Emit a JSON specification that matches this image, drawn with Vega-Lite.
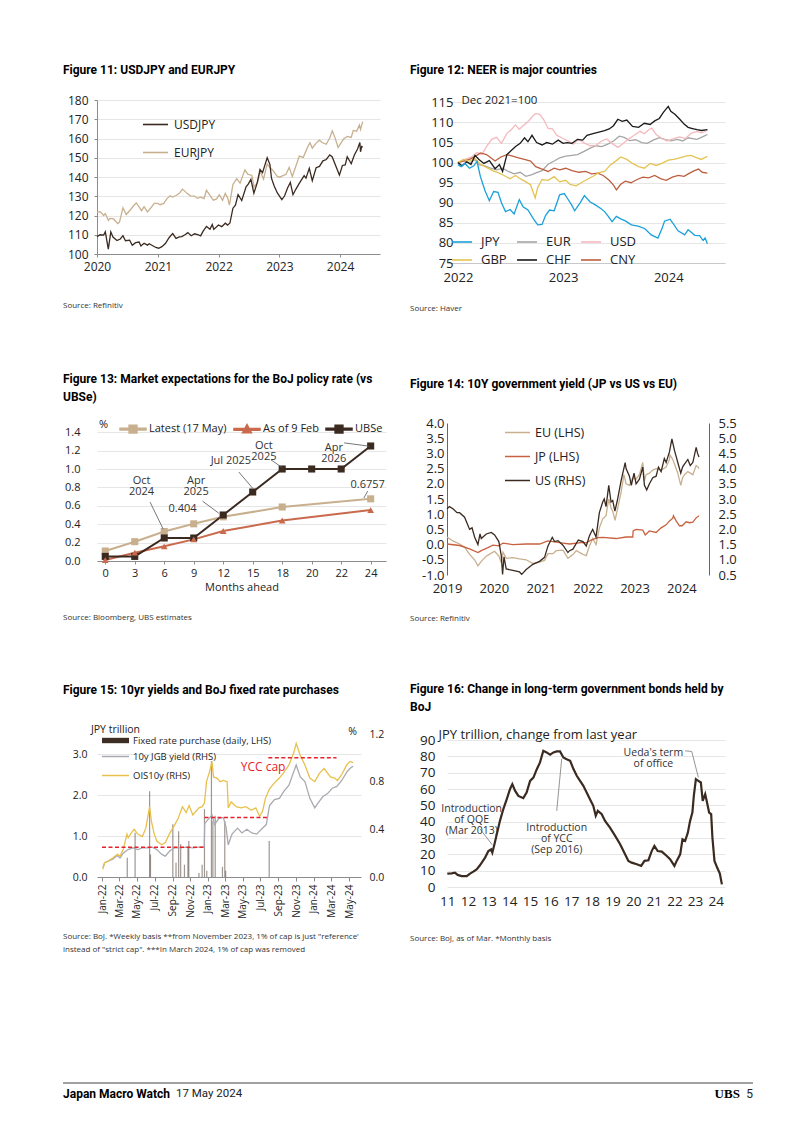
{
"$schema": "https://vega.github.io/schema/vega-lite/v6.json",
"background": "white",
"padding": {"left": 62, "top": 64, "right": 0, "bottom": 10},
"config": {
  "font": "Open Sans",
  "view": {"stroke": null},
  "axis": {"labelFont": "Open Sans", "titleFont": "Open Sans", "labelColor": "#222", "titleColor": "#222", "titleFontWeight": "normal", "domainColor": "#8c8c8c", "tickColor": "#8c8c8c", "gridColor": "#e6e6e6", "labelFontSize": 12, "labelOverlap": false, "labelFlush": false},
  "legend": {"labelFont": "Open Sans", "labelColor": "#222", "titleFont": "Open Sans", "titleFontWeight": "normal", "titleColor": "#222"},
  "title": {"font": "Roboto", "color": "#000"}
},
"spacing": 128,
"vconcat": [
{
"columns": 2,
"align": "each",
"spacing": {"row": 60, "column": 24},
"resolve": {"scale": {"color": "independent", "fill": "independent", "stroke": "independent", "shape": "independent"}, "legend": {"color": "independent", "fill": "independent", "stroke": "independent", "shape": "independent"}},
"concat": [
{
  "title": {"text": "Figure 11: USDJPY and EURJPY", "anchor": "start", "frame": "group", "dx": -34, "offset": 17, "fontSize": 12, "fontWeight": "bold"},
  "vconcat": [{
    "width": 283, "height": 154,
    "title": {"text": "Source: Refinitiv", "orient": "bottom", "anchor": "start", "frame": "group", "dx": -34, "offset": 30, "fontSize": 8, "fontWeight": "normal", "font": "Open Sans", "color": "#333"},
    "encoding": {
      "x": {"field": "d", "type": "temporal", "scale": {"type": "utc", "domain": [{"year": 2020, "month": 1, "date": 1, "utc": true}, {"year": 2024, "month": 8, "date": 28, "utc": true}]}, "axis": {"title": null, "format": "%Y", "tickCount": {"interval": "year", "step": 1}, "grid": false, "tickSize": 3, "labelPadding": 4, "labelFontSize": 12}},
      "y": {"field": "v", "type": "quantitative", "scale": {"domain": [100, 180], "nice": false, "zero": false}, "axis": {"title": null, "values": [100,110,120,130,140,150,160,170,180], "tickSize": 3, "labelPadding": 6, "labelFontSize": 12, "grid": true}}
    },
    "layer": [
      {"data": {"values": [
        {"d":"2020-01-01","v":121.8},{"d":"2020-01-20","v":122.0},{"d":"2020-02-10","v":120.0},{"d":"2020-02-20","v":121.0},{"d":"2020-03-09","v":117.5},{"d":"2020-03-20","v":118.5},{"d":"2020-04-10","v":118.2},{"d":"2020-05-05","v":115.8},{"d":"2020-05-15","v":116.5},{"d":"2020-06-05","v":124.0},{"d":"2020-06-25","v":120.5},{"d":"2020-07-20","v":123.0},{"d":"2020-08-10","v":125.3},{"d":"2020-08-25","v":126.5},{"d":"2020-09-10","v":124.5},{"d":"2020-09-25","v":122.5},{"d":"2020-10-10","v":124.6},{"d":"2020-10-30","v":121.9},{"d":"2020-11-20","v":124.0},{"d":"2020-12-10","v":126.3},{"d":"2020-12-30","v":126.3},{"d":"2021-01-15","v":125.6},{"d":"2021-02-05","v":126.3},{"d":"2021-02-25","v":128.8},{"d":"2021-03-15","v":130.2},{"d":"2021-03-31","v":129.6},{"d":"2021-04-20","v":130.4},{"d":"2021-05-10","v":131.5},{"d":"2021-05-28","v":133.7},{"d":"2021-06-10","v":132.8},{"d":"2021-06-25","v":131.5},{"d":"2021-07-15","v":130.2},{"d":"2021-08-10","v":130.1},{"d":"2021-08-25","v":128.9},{"d":"2021-09-15","v":129.5},{"d":"2021-10-05","v":128.8},{"d":"2021-10-20","v":133.1},{"d":"2021-11-10","v":130.5},{"d":"2021-11-30","v":128.0},{"d":"2021-12-20","v":128.6},{"d":"2022-01-05","v":130.8},{"d":"2022-01-25","v":127.9},{"d":"2022-02-10","v":131.5},{"d":"2022-02-25","v":129.0},{"d":"2022-03-07","v":125.4},{"d":"2022-03-28","v":136.1},{"d":"2022-04-20","v":139.2},{"d":"2022-05-10","v":136.8},{"d":"2022-06-08","v":143.7},{"d":"2022-06-25","v":141.5},{"d":"2022-07-20","v":140.8},{"d":"2022-08-02","v":134.8},{"d":"2022-08-25","v":137.5},{"d":"2022-09-07","v":143.1},{"d":"2022-09-28","v":138.9},{"d":"2022-10-20","v":146.8},{"d":"2022-11-05","v":145.0},{"d":"2022-11-20","v":143.8},{"d":"2022-12-20","v":140.3},{"d":"2023-01-03","v":139.9},{"d":"2023-01-20","v":140.6},{"d":"2023-02-10","v":141.4},{"d":"2023-03-01","v":145.0},{"d":"2023-03-20","v":140.3},{"d":"2023-04-10","v":145.6},{"d":"2023-05-01","v":150.9},{"d":"2023-05-25","v":150.2},{"d":"2023-06-20","v":155.6},{"d":"2023-07-04","v":157.8},{"d":"2023-07-18","v":155.0},{"d":"2023-08-10","v":157.6},{"d":"2023-08-30","v":159.1},{"d":"2023-09-15","v":157.9},{"d":"2023-10-10","v":157.0},{"d":"2023-11-01","v":160.5},{"d":"2023-11-15","v":164.0},{"d":"2023-12-01","v":160.6},{"d":"2023-12-20","v":155.3},{"d":"2024-01-05","v":157.5},{"d":"2024-01-25","v":160.0},{"d":"2024-02-15","v":161.1},{"d":"2024-03-08","v":160.6},{"d":"2024-03-20","v":164.2},{"d":"2024-04-10","v":163.8},{"d":"2024-04-26","v":167.0},{"d":"2024-05-03","v":164.7},{"d":"2024-05-16","v":168.8}
      ]},
      "mark": {"type": "line", "strokeWidth": 1.3},
      "encoding": {"color": {"datum": "EURJPY", "type": "nominal", "scale": {"domain": ["USDJPY", "EURJPY"], "range": ["#3b2a20", "#c8b08f"]}, "legend": {"orient": "none", "legendX": 45, "legendY": 11, "title": null, "symbolType": "stroke", "symbolSize": 625, "symbolStrokeWidth": 1.6, "labelFontSize": 12, "rowPadding": 8, "labelOffset": 5}}}},
      {"data": {"values": [
        {"d":"2020-01-01","v":109.0},{"d":"2020-01-20","v":110.0},{"d":"2020-02-10","v":109.8},{"d":"2020-02-20","v":111.5},{"d":"2020-03-09","v":102.5},{"d":"2020-03-24","v":111.5},{"d":"2020-04-06","v":108.8},{"d":"2020-04-30","v":107.0},{"d":"2020-05-20","v":107.8},{"d":"2020-06-05","v":109.5},{"d":"2020-06-20","v":106.9},{"d":"2020-07-15","v":107.2},{"d":"2020-07-31","v":104.5},{"d":"2020-08-20","v":105.9},{"d":"2020-09-10","v":106.2},{"d":"2020-09-21","v":104.2},{"d":"2020-10-10","v":105.6},{"d":"2020-10-30","v":104.6},{"d":"2020-11-10","v":105.3},{"d":"2020-12-01","v":104.3},{"d":"2020-12-20","v":103.4},{"d":"2021-01-06","v":103.0},{"d":"2021-01-25","v":103.8},{"d":"2021-02-15","v":105.4},{"d":"2021-03-10","v":108.6},{"d":"2021-03-31","v":110.6},{"d":"2021-04-20","v":108.1},{"d":"2021-05-10","v":108.9},{"d":"2021-05-25","v":109.0},{"d":"2021-06-15","v":110.1},{"d":"2021-06-30","v":111.1},{"d":"2021-07-20","v":109.5},{"d":"2021-08-10","v":110.5},{"d":"2021-08-31","v":110.0},{"d":"2021-09-15","v":109.4},{"d":"2021-09-30","v":111.9},{"d":"2021-10-20","v":114.3},{"d":"2021-11-10","v":112.9},{"d":"2021-11-24","v":115.3},{"d":"2021-12-03","v":112.8},{"d":"2021-12-31","v":115.1},{"d":"2022-01-20","v":114.2},{"d":"2022-02-10","v":116.0},{"d":"2022-02-24","v":115.0},{"d":"2022-03-10","v":116.1},{"d":"2022-03-28","v":123.8},{"d":"2022-04-12","v":125.4},{"d":"2022-04-28","v":130.8},{"d":"2022-05-20","v":127.8},{"d":"2022-06-15","v":134.9},{"d":"2022-06-28","v":136.3},{"d":"2022-07-14","v":138.8},{"d":"2022-08-01","v":131.6},{"d":"2022-08-20","v":136.7},{"d":"2022-09-07","v":143.9},{"d":"2022-09-22","v":142.3},{"d":"2022-10-20","v":150.0},{"d":"2022-11-05","v":146.6},{"d":"2022-11-15","v":139.3},{"d":"2022-12-01","v":135.3},{"d":"2022-12-20","v":131.7},{"d":"2023-01-16","v":128.2},{"d":"2023-02-01","v":130.1},{"d":"2023-02-20","v":134.4},{"d":"2023-03-08","v":137.2},{"d":"2023-03-24","v":130.8},{"d":"2023-04-10","v":133.6},{"d":"2023-04-28","v":136.3},{"d":"2023-05-30","v":140.7},{"d":"2023-06-10","v":139.4},{"d":"2023-06-30","v":144.5},{"d":"2023-07-18","v":138.1},{"d":"2023-08-10","v":144.8},{"d":"2023-08-30","v":145.5},{"d":"2023-09-20","v":148.4},{"d":"2023-10-10","v":149.1},{"d":"2023-10-31","v":151.5},{"d":"2023-11-15","v":150.4},{"d":"2023-12-01","v":146.9},{"d":"2023-12-28","v":141.0},{"d":"2024-01-15","v":146.0},{"d":"2024-02-01","v":146.3},{"d":"2024-02-13","v":150.5},{"d":"2024-03-08","v":146.9},{"d":"2024-03-27","v":151.4},{"d":"2024-04-15","v":154.5},{"d":"2024-04-29","v":157.9},{"d":"2024-05-03","v":153.1},{"d":"2024-05-10","v":155.8},{"d":"2024-05-16","v":155.5}
      ]},
      "mark": {"type": "line", "strokeWidth": 1.3},
      "encoding": {"color": {"datum": "USDJPY", "type": "nominal"}}}
    ]
  }]
},
{
  "title": {"text": "Figure 12: NEER is major countries", "anchor": "start", "frame": "group", "dx": -37, "offset": 17, "fontSize": 12, "fontWeight": "bold"},
  "vconcat": [{
    "width": 278, "height": 163,
    "title": {"text": "Source: Haver", "orient": "bottom", "anchor": "start", "frame": "group", "dx": -37, "offset": 21, "fontSize": 8, "fontWeight": "normal", "font": "Open Sans", "color": "#333"},
    "encoding": {
      "x": {"field": "d", "type": "temporal", "scale": {"type": "utc", "domain": [{"year": 2021, "month": 11, "date": 24, "utc": true}, {"year": 2024, "month": 7, "date": 16, "utc": true}]}, "axis": {"title": null, "format": "%Y", "tickCount": {"interval": "year", "step": 1}, "grid": false, "ticks": false, "labelPadding": 8, "labelFontSize": 13, "domainColor": "#c8c8c8"}},
      "y": {"field": "v", "type": "quantitative", "scale": {"domain": [75, 115.6], "nice": false, "zero": false}, "axis": {"title": "Dec 2021=100", "titleAngle": 0, "titleAlign": "left", "titleBaseline": "middle", "titleX": 4, "titleY": 0, "titleFontSize": 11.5, "values": [75,80,85,90,95,100,105,110,115], "domain": false, "ticks": false, "offset": -10, "labelPadding": 4, "labelFontSize": 13, "grid": true}}
    },
    "layer": [
      {"data": {"values": [
        {"d":"2022-01-01","v":100.0},{"d":"2022-01-20","v":100.6},{"d":"2022-02-10","v":99.8},{"d":"2022-03-01","v":100.8},{"d":"2022-03-15","v":99.5},{"d":"2022-04-05","v":99.2},{"d":"2022-04-25","v":98.6},{"d":"2022-05-15","v":98.2},{"d":"2022-06-05","v":98.6},{"d":"2022-06-25","v":97.8},{"d":"2022-07-15","v":97.2},{"d":"2022-08-05","v":97.6},{"d":"2022-08-25","v":96.6},{"d":"2022-09-15","v":97.0},{"d":"2022-10-01","v":97.5},{"d":"2022-10-20","v":98.0},{"d":"2022-11-10","v":99.6},{"d":"2022-12-01","v":100.4},{"d":"2022-12-20","v":101.2},{"d":"2023-01-10","v":101.6},{"d":"2023-02-01","v":101.8},{"d":"2023-02-20","v":102.0},{"d":"2023-03-15","v":102.8},{"d":"2023-04-05","v":103.6},{"d":"2023-04-25","v":104.2},{"d":"2023-05-15","v":104.0},{"d":"2023-06-05","v":104.6},{"d":"2023-06-25","v":105.4},{"d":"2023-07-15","v":106.6},{"d":"2023-08-01","v":106.3},{"d":"2023-08-20","v":105.5},{"d":"2023-09-10","v":105.7},{"d":"2023-10-01","v":105.0},{"d":"2023-10-20","v":104.8},{"d":"2023-11-10","v":105.6},{"d":"2023-12-01","v":106.2},{"d":"2023-12-20","v":105.8},{"d":"2024-01-10","v":105.4},{"d":"2024-02-01","v":105.8},{"d":"2024-02-20","v":105.4},{"d":"2024-03-10","v":106.2},{"d":"2024-03-25","v":106.0},{"d":"2024-04-10","v":105.8},{"d":"2024-04-25","v":106.3},{"d":"2024-05-16","v":107.0}
      ]}, "mark": {"type": "line", "strokeWidth": 1.3},
      "encoding": {"color": {"datum": "EUR", "type": "nominal", "scale": {"domain": ["JPY", "EUR", "USD", "GBP", "CHF", "CNY"], "range": ["#1aa0dc", "#a5a5a5", "#f5b9bd", "#e3c452", "#1a1a1a", "#bd5f3f"]}, "legend": {"orient": "none", "legendX": 4, "legendY": 131, "title": null, "direction": "horizontal", "columns": 3, "symbolType": "stroke", "symbolSize": 400, "symbolStrokeWidth": 1.6, "labelFontSize": 13, "rowPadding": -8, "columnPadding": 6, "labelOffset": 8}}}},
      {"data": {"values": [
        {"d":"2022-01-01","v":100.0},{"d":"2022-01-25","v":100.8},{"d":"2022-02-15","v":101.3},{"d":"2022-03-08","v":102.5},{"d":"2022-03-25","v":102.0},{"d":"2022-04-10","v":104.0},{"d":"2022-04-28","v":105.8},{"d":"2022-05-15","v":106.3},{"d":"2022-06-01","v":104.8},{"d":"2022-06-20","v":107.3},{"d":"2022-07-05","v":108.2},{"d":"2022-07-20","v":109.4},{"d":"2022-08-02","v":108.3},{"d":"2022-08-20","v":109.5},{"d":"2022-09-05","v":110.5},{"d":"2022-09-20","v":111.8},{"d":"2022-09-28","v":112.2},{"d":"2022-10-12","v":112.0},{"d":"2022-10-25","v":110.8},{"d":"2022-11-10","v":108.5},{"d":"2022-11-25","v":108.4},{"d":"2022-12-10","v":106.8},{"d":"2023-01-01","v":106.0},{"d":"2023-01-20","v":105.3},{"d":"2023-02-05","v":104.6},{"d":"2023-02-25","v":105.8},{"d":"2023-03-15","v":104.9},{"d":"2023-04-05","v":104.2},{"d":"2023-04-25","v":104.3},{"d":"2023-05-15","v":105.4},{"d":"2023-06-01","v":105.9},{"d":"2023-06-20","v":104.8},{"d":"2023-07-10","v":103.8},{"d":"2023-07-25","v":104.6},{"d":"2023-08-15","v":105.8},{"d":"2023-09-05","v":106.8},{"d":"2023-09-25","v":107.8},{"d":"2023-10-10","v":107.2},{"d":"2023-10-25","v":108.2},{"d":"2023-11-05","v":108.6},{"d":"2023-11-20","v":107.0},{"d":"2023-12-10","v":106.0},{"d":"2023-12-28","v":105.4},{"d":"2024-01-20","v":106.0},{"d":"2024-02-10","v":106.4},{"d":"2024-03-01","v":106.0},{"d":"2024-03-20","v":107.3},{"d":"2024-04-10","v":107.8},{"d":"2024-04-25","v":107.4},{"d":"2024-05-16","v":108.0}
      ]}, "mark": {"type": "line", "strokeWidth": 1.3}, "encoding": {"color": {"datum": "USD", "type": "nominal"}}},
      {"data": {"values": [
        {"d":"2022-01-01","v":100.0},{"d":"2022-01-20","v":100.4},{"d":"2022-02-10","v":100.8},{"d":"2022-03-01","v":101.5},{"d":"2022-03-20","v":102.4},{"d":"2022-04-10","v":102.0},{"d":"2022-04-25","v":101.2},{"d":"2022-05-10","v":100.4},{"d":"2022-05-30","v":101.4},{"d":"2022-06-20","v":102.0},{"d":"2022-07-10","v":101.6},{"d":"2022-07-30","v":101.2},{"d":"2022-08-20","v":100.8},{"d":"2022-09-10","v":100.4},{"d":"2022-09-28","v":99.0},{"d":"2022-10-20","v":98.4},{"d":"2022-11-10","v":97.8},{"d":"2022-12-01","v":98.6},{"d":"2022-12-20","v":98.2},{"d":"2023-01-10","v":98.6},{"d":"2023-02-01","v":98.0},{"d":"2023-02-25","v":97.6},{"d":"2023-03-20","v":97.8},{"d":"2023-04-10","v":97.2},{"d":"2023-05-01","v":97.4},{"d":"2023-05-20","v":96.8},{"d":"2023-06-10","v":95.6},{"d":"2023-06-25","v":94.4},{"d":"2023-07-05","v":93.2},{"d":"2023-07-20","v":94.6},{"d":"2023-08-05","v":95.4},{"d":"2023-08-25","v":95.0},{"d":"2023-09-15","v":95.8},{"d":"2023-10-05","v":96.4},{"d":"2023-10-25","v":96.2},{"d":"2023-11-15","v":96.8},{"d":"2023-12-05","v":96.0},{"d":"2023-12-25","v":95.6},{"d":"2024-01-15","v":96.4},{"d":"2024-02-05","v":96.8},{"d":"2024-02-25","v":96.6},{"d":"2024-03-15","v":97.4},{"d":"2024-04-01","v":98.0},{"d":"2024-04-15","v":98.4},{"d":"2024-04-28","v":97.6},{"d":"2024-05-16","v":97.4}
      ]}, "mark": {"type": "line", "strokeWidth": 1.3}, "encoding": {"color": {"datum": "CNY", "type": "nominal"}}},
      {"data": {"values": [
        {"d":"2022-01-01","v":100.0},{"d":"2022-01-20","v":100.8},{"d":"2022-02-10","v":100.4},{"d":"2022-03-01","v":101.0},{"d":"2022-03-20","v":99.6},{"d":"2022-04-10","v":98.8},{"d":"2022-05-01","v":98.0},{"d":"2022-05-20","v":97.5},{"d":"2022-06-10","v":96.8},{"d":"2022-07-01","v":96.0},{"d":"2022-07-20","v":96.8},{"d":"2022-08-05","v":96.0},{"d":"2022-08-25","v":95.2},{"d":"2022-09-10","v":94.5},{"d":"2022-09-26","v":91.2},{"d":"2022-10-05","v":93.8},{"d":"2022-10-20","v":95.8},{"d":"2022-11-10","v":95.6},{"d":"2022-12-01","v":96.5},{"d":"2022-12-20","v":95.2},{"d":"2023-01-10","v":95.6},{"d":"2023-01-25","v":94.6},{"d":"2023-02-15","v":94.2},{"d":"2023-03-05","v":95.0},{"d":"2023-03-25","v":95.8},{"d":"2023-04-15","v":96.6},{"d":"2023-05-05","v":97.5},{"d":"2023-05-25","v":97.8},{"d":"2023-06-15","v":99.5},{"d":"2023-07-05","v":100.5},{"d":"2023-07-20","v":101.4},{"d":"2023-08-10","v":100.8},{"d":"2023-08-30","v":99.8},{"d":"2023-09-20","v":99.0},{"d":"2023-10-10","v":98.6},{"d":"2023-10-30","v":99.8},{"d":"2023-11-20","v":99.3},{"d":"2023-12-10","v":99.8},{"d":"2024-01-01","v":100.6},{"d":"2024-01-20","v":100.8},{"d":"2024-02-10","v":101.2},{"d":"2024-03-01","v":101.6},{"d":"2024-03-20","v":101.8},{"d":"2024-04-10","v":101.2},{"d":"2024-04-25","v":100.8},{"d":"2024-05-16","v":101.6}
      ]}, "mark": {"type": "line", "strokeWidth": 1.3}, "encoding": {"color": {"datum": "GBP", "type": "nominal"}}},
      {"data": {"values": [
        {"d":"2022-01-01","v":100.0},{"d":"2022-01-15","v":99.2},{"d":"2022-02-01","v":100.2},{"d":"2022-02-15","v":99.5},{"d":"2022-03-01","v":101.8},{"d":"2022-03-15","v":100.8},{"d":"2022-04-01","v":99.8},{"d":"2022-04-20","v":100.5},{"d":"2022-05-10","v":98.5},{"d":"2022-05-25","v":99.5},{"d":"2022-06-05","v":97.8},{"d":"2022-06-20","v":102.0},{"d":"2022-07-05","v":103.0},{"d":"2022-07-20","v":104.0},{"d":"2022-08-05","v":104.8},{"d":"2022-08-20","v":106.2},{"d":"2022-09-01","v":105.2},{"d":"2022-09-15","v":106.8},{"d":"2022-10-01","v":105.0},{"d":"2022-10-20","v":104.4},{"d":"2022-11-05","v":105.0},{"d":"2022-11-25","v":104.6},{"d":"2022-12-15","v":105.6},{"d":"2023-01-01","v":104.8},{"d":"2023-01-15","v":105.0},{"d":"2023-02-01","v":104.8},{"d":"2023-02-20","v":105.8},{"d":"2023-03-10","v":105.6},{"d":"2023-03-25","v":106.8},{"d":"2023-04-15","v":107.2},{"d":"2023-05-05","v":107.6},{"d":"2023-05-25","v":108.0},{"d":"2023-06-10","v":108.4},{"d":"2023-06-25","v":109.2},{"d":"2023-07-10","v":110.8},{"d":"2023-07-25","v":110.3},{"d":"2023-08-10","v":110.6},{"d":"2023-08-30","v":109.0},{"d":"2023-09-20","v":108.8},{"d":"2023-10-10","v":109.8},{"d":"2023-10-30","v":109.5},{"d":"2023-11-15","v":110.4},{"d":"2023-12-01","v":111.0},{"d":"2023-12-15","v":112.5},{"d":"2024-01-01","v":114.0},{"d":"2024-01-10","v":112.8},{"d":"2024-01-25","v":112.0},{"d":"2024-02-10","v":110.8},{"d":"2024-02-25","v":109.6},{"d":"2024-03-10","v":108.8},{"d":"2024-03-25","v":108.5},{"d":"2024-04-10","v":108.2},{"d":"2024-04-25","v":108.0},{"d":"2024-05-16","v":108.2}
      ]}, "mark": {"type": "line", "strokeWidth": 1.3}, "encoding": {"color": {"datum": "CHF", "type": "nominal"}}},
      {"data": {"values": [
        {"d":"2022-01-01","v":99.5},{"d":"2022-01-12","v":99.0},{"d":"2022-01-25","v":99.8},{"d":"2022-02-10","v":98.6},{"d":"2022-02-25","v":99.2},{"d":"2022-03-08","v":100.3},{"d":"2022-03-20","v":96.5},{"d":"2022-04-05","v":93.0},{"d":"2022-04-20","v":90.5},{"d":"2022-05-05","v":92.8},{"d":"2022-05-20","v":92.6},{"d":"2022-06-01","v":90.0},{"d":"2022-06-15","v":87.8},{"d":"2022-07-01","v":88.3},{"d":"2022-07-15","v":87.2},{"d":"2022-08-02","v":90.8},{"d":"2022-08-15","v":89.0},{"d":"2022-09-01","v":88.2},{"d":"2022-09-20","v":86.0},{"d":"2022-10-05","v":84.5},{"d":"2022-10-20","v":84.6},{"d":"2022-11-01","v":86.8},{"d":"2022-11-15","v":88.2},{"d":"2022-12-01","v":88.0},{"d":"2022-12-20","v":92.0},{"d":"2023-01-05","v":92.3},{"d":"2023-01-17","v":91.0},{"d":"2023-02-01","v":89.3},{"d":"2023-02-10","v":88.0},{"d":"2023-03-01","v":90.0},{"d":"2023-03-16","v":91.8},{"d":"2023-04-05","v":90.2},{"d":"2023-04-20","v":89.6},{"d":"2023-05-13","v":88.5},{"d":"2023-05-25","v":87.8},{"d":"2023-06-05","v":86.8},{"d":"2023-06-20","v":85.3},{"d":"2023-07-05","v":86.6},{"d":"2023-07-20","v":86.0},{"d":"2023-08-05","v":85.5},{"d":"2023-08-26","v":84.5},{"d":"2023-09-18","v":84.2},{"d":"2023-10-11","v":83.6},{"d":"2023-11-03","v":82.0},{"d":"2023-11-26","v":81.2},{"d":"2023-12-10","v":83.5},{"d":"2023-12-19","v":85.4},{"d":"2024-01-07","v":85.9},{"d":"2024-01-20","v":84.6},{"d":"2024-02-04","v":83.0},{"d":"2024-02-27","v":82.0},{"d":"2024-03-10","v":83.3},{"d":"2024-03-22","v":82.6},{"d":"2024-04-02","v":81.9},{"d":"2024-04-19","v":81.8},{"d":"2024-05-01","v":80.6},{"d":"2024-05-08","v":81.2},{"d":"2024-05-16","v":79.8}
      ]}, "mark": {"type": "line", "strokeWidth": 1.3}, "encoding": {"color": {"datum": "JPY", "type": "nominal"}}}
    ]
  }]
},
{
  "title": {"text": ["Figure 13: Market expectations for the BoJ policy rate (vs", "UBSe)"], "lineHeight": 18, "anchor": "start", "frame": "group", "dx": -34, "offset": 11, "fontSize": 12, "fontWeight": "bold"},
  "vconcat": [{
    "width": 289, "height": 138,
    "title": {"text": "Source: Bloomberg, UBS estimates", "orient": "bottom", "anchor": "start", "frame": "group", "dx": -34, "offset": 22, "fontSize": 8, "fontWeight": "normal", "font": "Open Sans", "color": "#333"},
    "data": {"values": [
      {"s":"Latest (17 May)","pos":0,"v":0.109},{"s":"Latest (17 May)","pos":1,"v":0.21},{"s":"Latest (17 May)","pos":2,"v":0.32},{"s":"Latest (17 May)","pos":3,"v":0.404},{"s":"Latest (17 May)","pos":4,"v":0.48},{"s":"Latest (17 May)","pos":6,"v":0.587},{"s":"Latest (17 May)","pos":9,"v":0.6757},
      {"s":"As of 9 Feb","pos":0,"v":0.01},{"s":"As of 9 Feb","pos":1,"v":0.09},{"s":"As of 9 Feb","pos":2,"v":0.16},{"s":"As of 9 Feb","pos":3,"v":0.235},{"s":"As of 9 Feb","pos":4,"v":0.326},{"s":"As of 9 Feb","pos":6,"v":0.44},{"s":"As of 9 Feb","pos":9,"v":0.554},
      {"s":"UBSe","pos":0,"v":0.05},{"s":"UBSe","pos":1,"v":0.05},{"s":"UBSe","pos":2,"v":0.25},{"s":"UBSe","pos":3,"v":0.25},{"s":"UBSe","pos":4,"v":0.5},{"s":"UBSe","pos":5,"v":0.75},{"s":"UBSe","pos":6,"v":1.0},{"s":"UBSe","pos":7,"v":1.0},{"s":"UBSe","pos":8,"v":1.0},{"s":"UBSe","pos":9,"v":1.25}
    ]},
    "encoding": {
      "x": {"field": "pos", "type": "quantitative", "scale": {"domain": [-0.28, 9.52], "nice": false, "zero": false}, "axis": {"title": "Months ahead", "values": [0,1,2,3,4,5,6,7,8,9], "labelExpr": "['0','3','6','9','12','15','18','20','22','24'][datum.value]", "grid": false, "tickSize": 3, "labelPadding": 3, "labelFontSize": 11, "titleFontSize": 11, "titlePadding": 3}},
      "y": {"field": "v", "type": "quantitative", "scale": {"domain": [0, 1.5], "nice": false, "zero": false}, "axis": {"title": null, "values": [0,0.2,0.4,0.6,0.8,1.0,1.2,1.4], "format": ".1f", "domain": false, "ticks": false, "labelPadding": 17, "labelFontSize": 11, "grid": true}}
    },
    "layer": [
      {"mark": {"type": "line", "strokeWidth": 2},
       "encoding": {"color": {"field": "s", "type": "nominal", "scale": {"domain": ["Latest (17 May)", "As of 9 Feb", "UBSe"], "range": ["#c8b08f", "#c96a4d", "#3b2a20"]},
         "legend": {"orient": "none", "legendX": 2, "legendY": -8, "direction": "horizontal", "title": "%", "titleOrient": "left", "titlePadding": 10, "titleFontSize": 11, "labelFontSize": 11, "symbolSize": 676, "symbolType": "M-1,-0.07H1V0.07H-1Z M-0.3,-0.3H0.3V0.3H-0.3Z", "labelOffset": 2, "columnPadding": 4,
           "encode": {"symbols": {"update": {"shape": {"signal": "datum.value === 'As of 9 Feb' ? 'M-1,-0.07H1V0.07H-1Z M0,-0.36L0.34,0.26H-0.34Z' : 'M-1,-0.07H1V0.07H-1Z M-0.3,-0.3H0.3V0.3H-0.3Z'"}, "fill": {"signal": "scale('color', datum.value)"}, "stroke": {"value": "transparent"}, "opacity": {"value": 1}}}}}}}},
      {"transform": [{"filter": "datum.s !== 'As of 9 Feb'"}],
       "mark": {"type": "point", "filled": true, "opacity": 1, "size": 50, "shape": "square"},
       "encoding": {"color": {"field": "s", "type": "nominal"}}},
      {"transform": [{"filter": "datum.s === 'As of 9 Feb'"}],
       "mark": {"type": "point", "filled": true, "opacity": 1, "size": 45, "shape": "triangle-up"},
       "encoding": {"color": {"field": "s", "type": "nominal"}}},
      {"data": {"values": [
        {"pos": 1.52, "v": 0.64, "pos2": 1.96, "v2": 0.35},
        {"pos": 3.30, "v": 0.65, "pos2": 3.85, "v2": 0.52},
        {"pos": 4.53, "v": 0.967, "pos2": 5.0, "v2": 0.79},
        {"pos": 5.62, "v": 1.10, "pos2": 6.02, "v2": 1.01},
        {"pos": 8.10, "v": 1.284, "pos2": 8.95, "v2": 1.248},
        {"pos": 8.90, "v": 0.76, "pos2": 8.77, "v2": 0.685}
      ]}, "mark": {"type": "rule", "color": "#555", "strokeWidth": 0.8},
       "encoding": {"x2": {"field": "pos2"}, "y2": {"field": "v2"}}},
      {"data": {"values": [
        {"pos": 1.23, "v": 0.865, "t": "Oct\n2024"},
        {"pos": 2.62, "v": 0.565, "t": "0.404"},
        {"pos": 3.08, "v": 0.865, "t": "Apr\n2025"},
        {"pos": 4.26, "v": 1.087, "t": "Jul 2025"},
        {"pos": 5.38, "v": 1.255, "t": "Oct\n2025"},
        {"pos": 7.75, "v": 1.228, "t": "Apr\n2026"},
        {"pos": 8.90, "v": 0.826, "t": "0.6757"}
      ]}, "mark": {"type": "text", "fontSize": 11, "lineBreak": "\n", "lineHeight": 11, "color": "#333", "baseline": "middle"},
       "encoding": {"text": {"field": "t"}}}
    ]
  }]
},
{
  "title": {"text": "Figure 14: 10Y government yield (JP vs US vs EU)", "anchor": "start", "frame": "group", "dx": -37, "offset": 26, "fontSize": 12, "fontWeight": "bold"},
  "vconcat": [{
    "width": 262, "height": 152,
    "title": {"text": "Source: Refinitiv", "orient": "bottom", "anchor": "start", "frame": "group", "dx": -37, "offset": 20, "fontSize": 8, "fontWeight": "normal", "font": "Open Sans", "color": "#333"},
    "encoding": {
      "x": {"field": "d", "type": "temporal", "scale": {"type": "utc", "domain": [{"year": 2019, "month": 1, "date": 1, "utc": true}, {"year": 2024, "month": 8, "date": 3, "utc": true}]}, "axis": {"title": null, "format": "%Y", "tickCount": {"interval": "year", "step": 1}, "grid": false, "domain": false, "ticks": false, "labelPadding": 7, "labelFontSize": 13}}
    },
    "layer": [
      {"layer": [
        {"data": {"values": [
          {"d":"2019-01-01","v":0.25},{"d":"2019-02-16","v":0.12},{"d":"2019-04-09","v":0.02},{"d":"2019-05-18","v":-0.08},{"d":"2019-06-26","v":-0.32},{"d":"2019-08-04","v":-0.5},{"d":"2019-08-30","v":-0.7},{"d":"2019-09-25","v":-0.55},{"d":"2019-11-03","v":-0.38},{"d":"2019-12-12","v":-0.28},{"d":"2020-01-07","v":-0.22},{"d":"2020-02-09","v":-0.38},{"d":"2020-02-28","v":-0.6},{"d":"2020-03-12","v":-0.25},{"d":"2020-04-06","v":-0.45},{"d":"2020-05-28","v":-0.43},{"d":"2020-07-19","v":-0.47},{"d":"2020-09-09","v":-0.5},{"d":"2020-10-31","v":-0.62},{"d":"2020-12-22","v":-0.58},{"d":"2021-01-30","v":-0.52},{"d":"2021-02-25","v":-0.3},{"d":"2021-04-05","v":-0.3},{"d":"2021-05-01","v":-0.2},{"d":"2021-06-22","v":-0.18},{"d":"2021-07-31","v":-0.45},{"d":"2021-09-08","v":-0.33},{"d":"2021-10-04","v":-0.2},{"d":"2021-11-25","v":-0.32},{"d":"2021-12-21","v":-0.36},{"d":"2022-01-14","v":-0.05},{"d":"2022-02-09","v":0.2},{"d":"2022-03-07","v":0.0},{"d":"2022-04-02","v":0.55},{"d":"2022-04-28","v":0.85},{"d":"2022-05-24","v":0.95},{"d":"2022-06-06","v":1.3},{"d":"2022-06-15","v":1.5},{"d":"2022-07-02","v":1.2},{"d":"2022-07-15","v":1.1},{"d":"2022-08-02","v":0.8},{"d":"2022-08-10","v":0.95},{"d":"2022-09-18","v":1.72},{"d":"2022-10-10","v":2.3},{"d":"2022-10-27","v":2.0},{"d":"2022-11-22","v":1.95},{"d":"2022-12-18","v":2.2},{"d":"2023-01-13","v":2.15},{"d":"2023-02-08","v":2.3},{"d":"2023-03-06","v":2.7},{"d":"2023-03-19","v":2.1},{"d":"2023-04-01","v":2.3},{"d":"2023-04-27","v":2.35},{"d":"2023-05-23","v":2.45},{"d":"2023-06-18","v":2.5},{"d":"2023-07-27","v":2.45},{"d":"2023-09-04","v":2.55},{"d":"2023-09-30","v":2.8},{"d":"2023-10-04","v":2.95},{"d":"2023-10-26","v":2.8},{"d":"2023-11-08","v":2.65},{"d":"2023-12-04","v":2.35},{"d":"2023-12-27","v":1.95},{"d":"2024-01-10","v":2.2},{"d":"2024-01-25","v":2.3},{"d":"2024-02-20","v":2.4},{"d":"2024-03-30","v":2.3},{"d":"2024-04-25","v":2.6},{"d":"2024-05-10","v":2.55},{"d":"2024-05-17","v":2.5}
        ]}, "mark": {"type": "line", "strokeWidth": 1.3},
         "encoding": {"y": {"field": "v", "type": "quantitative", "scale": {"domain": [-1, 4], "nice": false, "zero": false}, "axis": {"title": null, "values": [-1,-0.5,0,0.5,1,1.5,2,2.5,3,3.5,4], "labelExpr": "(datum.value < 0 ? '-' : '') + format(abs(datum.value), '.1f')", "labelFontSize": 13, "grid": false, "domainColor": "#666", "ticks": false, "labelPadding": 3, "labelOverlap": false, "labelBound": false}},
           "color": {"datum": "EU (LHS)", "type": "nominal", "scale": {"domain": ["EU (LHS)", "JP (LHS)", "US (RHS)"], "range": ["#c8b08f", "#c8613f", "#3b2a20"]}, "legend": {"orient": "none", "legendX": 57, "legendY": -4, "title": null, "symbolType": "stroke", "symbolSize": 625, "symbolStrokeWidth": 1.5, "labelFontSize": 12.5, "rowPadding": 4, "labelOffset": 4}}}},
        {"data": {"values": [
          {"d":"2019-01-01","v":0.02},{"d":"2019-04-09","v":-0.03},{"d":"2019-06-26","v":-0.14},{"d":"2019-08-30","v":-0.26},{"d":"2019-09-25","v":-0.2},{"d":"2019-11-16","v":-0.1},{"d":"2019-12-25","v":-0.02},{"d":"2020-02-09","v":-0.04},{"d":"2020-03-12","v":0.05},{"d":"2020-05-28","v":0.0},{"d":"2020-09-09","v":0.02},{"d":"2020-12-22","v":0.02},{"d":"2021-02-25","v":0.12},{"d":"2021-04-05","v":0.1},{"d":"2021-06-22","v":0.05},{"d":"2021-08-13","v":0.02},{"d":"2021-11-25","v":0.07},{"d":"2021-12-21","v":0.06},{"d":"2022-01-27","v":0.15},{"d":"2022-03-20","v":0.23},{"d":"2022-04-28","v":0.24},{"d":"2022-08-10","v":0.2},{"d":"2022-10-27","v":0.25},{"d":"2022-12-18","v":0.25},{"d":"2022-12-21","v":0.45},{"d":"2023-01-13","v":0.5},{"d":"2023-03-06","v":0.48},{"d":"2023-03-25","v":0.32},{"d":"2023-04-27","v":0.45},{"d":"2023-06-18","v":0.4},{"d":"2023-07-27","v":0.55},{"d":"2023-09-04","v":0.65},{"d":"2023-09-30","v":0.78},{"d":"2023-10-26","v":0.87},{"d":"2023-10-31","v":0.95},{"d":"2023-11-21","v":0.78},{"d":"2023-12-17","v":0.62},{"d":"2024-01-07","v":0.62},{"d":"2024-02-07","v":0.75},{"d":"2024-03-04","v":0.72},{"d":"2024-03-30","v":0.74},{"d":"2024-04-25","v":0.88},{"d":"2024-05-17","v":0.95}
        ]}, "mark": {"type": "line", "strokeWidth": 1.3},
         "encoding": {"y": {"field": "v", "type": "quantitative", "axis": {"title": null, "values": [-1,-0.5,0,0.5,1,1.5,2,2.5,3,3.5,4], "labelExpr": "(datum.value < 0 ? '-' : '') + format(abs(datum.value), '.1f')", "labelFontSize": 13, "grid": false, "domainColor": "#666", "ticks": false, "labelPadding": 3, "labelOverlap": false, "labelBound": false}}, "color": {"datum": "JP (LHS)", "type": "nominal"}}},
        {"data": {"values": [{"v": 0}]}, "mark": {"type": "rule", "color": "#666", "strokeWidth": 1},
         "encoding": {"y": {"field": "v", "type": "quantitative", "axis": {"title": null, "values": [-1,-0.5,0,0.5,1,1.5,2,2.5,3,3.5,4], "labelExpr": "(datum.value < 0 ? '-' : '') + format(abs(datum.value), '.1f')", "labelFontSize": 13, "grid": false, "domainColor": "#666", "ticks": false, "labelPadding": 3, "labelOverlap": false, "labelBound": false}}}}
      ]},
      {"data": {"values": [
        {"d":"2019-01-01","v":2.68},{"d":"2019-01-20","v":2.75},{"d":"2019-02-16","v":2.68},{"d":"2019-03-20","v":2.55},{"d":"2019-04-09","v":2.55},{"d":"2019-05-18","v":2.4},{"d":"2019-06-26","v":2.0},{"d":"2019-07-15","v":2.05},{"d":"2019-08-04","v":1.75},{"d":"2019-08-30","v":1.5},{"d":"2019-09-15","v":1.85},{"d":"2019-09-25","v":1.7},{"d":"2019-11-03","v":1.85},{"d":"2019-12-12","v":1.9},{"d":"2020-01-07","v":1.82},{"d":"2020-02-09","v":1.6},{"d":"2020-02-28","v":1.13},{"d":"2020-03-09","v":0.52},{"d":"2020-03-20","v":1.1},{"d":"2020-04-06","v":0.7},{"d":"2020-05-28","v":0.65},{"d":"2020-07-19","v":0.6},{"d":"2020-08-05","v":0.52},{"d":"2020-09-09","v":0.68},{"d":"2020-10-31","v":0.85},{"d":"2020-12-22","v":0.95},{"d":"2021-01-30","v":1.08},{"d":"2021-02-25","v":1.45},{"d":"2021-03-31","v":1.74},{"d":"2021-04-18","v":1.6},{"d":"2021-05-15","v":1.63},{"d":"2021-06-22","v":1.48},{"d":"2021-07-31","v":1.24},{"d":"2021-08-13","v":1.3},{"d":"2021-09-08","v":1.35},{"d":"2021-10-20","v":1.65},{"d":"2021-11-25","v":1.6},{"d":"2021-12-21","v":1.45},{"d":"2022-01-14","v":1.78},{"d":"2022-01-27","v":1.9},{"d":"2022-02-09","v":2.0},{"d":"2022-03-07","v":1.75},{"d":"2022-03-20","v":2.15},{"d":"2022-04-02","v":2.55},{"d":"2022-04-28","v":2.9},{"d":"2022-05-10","v":3.0},{"d":"2022-05-24","v":2.75},{"d":"2022-06-14","v":3.45},{"d":"2022-07-02","v":2.9},{"d":"2022-07-15","v":2.95},{"d":"2022-08-01","v":2.6},{"d":"2022-08-20","v":2.95},{"d":"2022-09-18","v":3.6},{"d":"2022-10-20","v":4.2},{"d":"2022-10-27","v":4.0},{"d":"2022-11-22","v":3.75},{"d":"2022-12-07","v":3.45},{"d":"2022-12-28","v":3.85},{"d":"2023-01-13","v":3.5},{"d":"2023-02-08","v":3.65},{"d":"2023-03-06","v":4.05},{"d":"2023-03-19","v":3.45},{"d":"2023-04-06","v":3.3},{"d":"2023-04-27","v":3.5},{"d":"2023-05-23","v":3.7},{"d":"2023-06-18","v":3.75},{"d":"2023-07-06","v":4.05},{"d":"2023-07-27","v":3.9},{"d":"2023-08-21","v":4.33},{"d":"2023-09-04","v":4.2},{"d":"2023-09-30","v":4.55},{"d":"2023-10-19","v":4.98},{"d":"2023-11-08","v":4.6},{"d":"2023-11-21","v":4.4},{"d":"2023-12-04","v":4.2},{"d":"2023-12-27","v":3.85},{"d":"2024-01-10","v":4.05},{"d":"2024-01-25","v":4.15},{"d":"2024-02-20","v":4.3},{"d":"2024-03-10","v":4.1},{"d":"2024-03-30","v":4.2},{"d":"2024-04-25","v":4.7},{"d":"2024-05-06","v":4.5},{"d":"2024-05-17","v":4.38}
      ]}, "mark": {"type": "line", "strokeWidth": 1.3},
       "encoding": {"y": {"field": "v", "type": "quantitative", "scale": {"domain": [0.5, 5.5], "nice": false, "zero": false}, "axis": {"orient": "right", "title": null, "values": [0.5,1,1.5,2,2.5,3,3.5,4,4.5,5,5.5], "format": ".1f", "labelFontSize": 13, "grid": false, "domainColor": "#666", "ticks": false, "labelPadding": 9}},
         "color": {"datum": "US (RHS)", "type": "nominal"}}}
    ],
    "resolve": {"scale": {"y": "independent"}}
  }]
},
{
  "title": {"text": "Figure 15: 10yr yields and BoJ fixed rate purchases", "anchor": "start", "frame": "group", "dx": -34, "offset": 27, "fontSize": 12, "fontWeight": "bold"},
  "vconcat": [{
    "width": 264, "height": 143,
    "title": {"text": ["Source: BoJ. *Weekly basis **from November 2023, 1% of cap is just \"reference'", "instead of \"strict cap\". ***In March 2024, 1% of cap was removed"], "lineHeight": 12.5, "orient": "bottom", "anchor": "start", "frame": "group", "dx": -34, "offset": 15, "fontSize": 8, "fontWeight": "normal", "font": "Open Sans", "color": "#333"},
    "encoding": {
      "x": {"field": "d", "type": "temporal", "scale": {"type": "utc", "domain": [{"year": 2022, "month": 1, "date": 1, "utc": true}, {"year": 2024, "month": 5, "date": 25, "utc": true}]}, "axis": {"title": null, "format": "%b-%y", "tickCount": {"interval": "month", "step": 2}, "labelAngle": 270, "labelAlign": "right", "labelBaseline": "middle", "labelFontSize": 10, "tickSize": 4, "labelPadding": 3, "grid": false}}
    },
    "layer": [
      {"data": {"values": [
        {"d":"2022-03-29","v":0.47},{"d":"2022-04-25","v":1.08},{"d":"2022-06-14","v":2.1},{"d":"2022-06-17","v":0.55},{"d":"2022-09-02","v":1.29},{"d":"2022-09-13","v":0.35},{"d":"2022-09-22","v":1.12},{"d":"2022-09-29","v":0.8},{"d":"2022-10-12","v":0.3},{"d":"2022-10-24","v":0.72},{"d":"2022-10-27","v":0.88},{"d":"2022-12-01","v":0.1},{"d":"2022-12-12","v":0.3},{"d":"2022-12-20","v":1.66},{"d":"2022-12-28","v":0.15},{"d":"2023-01-13","v":2.84},{"d":"2023-01-18","v":1.37},{"d":"2023-01-26","v":1.5},{"d":"2023-02-20","v":0.25},{"d":"2023-02-28","v":1.37},{"d":"2023-03-03","v":0.15},{"d":"2023-07-31","v":0.88}
      ]}, "mark": {"type": "bar", "size": 1.2, "opacity": 0.5},
       "encoding": {"y": {"field": "v", "type": "quantitative", "scale": {"domain": [0, 3.5], "nice": false}, "axis": {"title": "JPY trillion", "titleAngle": 0, "titleAlign": "center", "titleBaseline": "middle", "titleX": 18, "titleY": -5, "titleFontSize": 10.5, "values": [0,1,2,3], "format": ".1f", "domain": false, "ticks": false, "labelPadding": 10, "labelFontSize": 10.5, "grid": true}},
         "fill": {"datum": "Fixed rate purchase (daily, LHS)", "type": "nominal", "scale": {"range": ["#3d2e25"]}, "legend": {"orient": "none", "legendX": 4, "legendY": -8, "title": null, "symbolType": "M-1,-0.2H1V0.2H-1Z", "symbolSize": 729, "symbolOpacity": 1, "labelFontSize": 9.5, "labelOffset": 3}}}},
      {"layer": [
        {"data": {"values": [
          {"d":"2022-01-04","v":0.08},{"d":"2022-01-10","v":0.12},{"d":"2022-01-20","v":0.13},{"d":"2022-02-07","v":0.15},{"d":"2022-02-23","v":0.18},{"d":"2022-03-04","v":0.16},{"d":"2022-03-15","v":0.2},{"d":"2022-04-01","v":0.23},{"d":"2022-04-17","v":0.245},{"d":"2022-05-04","v":0.23},{"d":"2022-05-20","v":0.245},{"d":"2022-06-06","v":0.245},{"d":"2022-06-23","v":0.25},{"d":"2022-07-09","v":0.23},{"d":"2022-07-26","v":0.19},{"d":"2022-08-07","v":0.175},{"d":"2022-08-23","v":0.22},{"d":"2022-09-09","v":0.245},{"d":"2022-09-26","v":0.245},{"d":"2022-10-18","v":0.25},{"d":"2022-11-10","v":0.245},{"d":"2022-12-01","v":0.25},{"d":"2022-12-19","v":0.25},{"d":"2022-12-21","v":0.45},{"d":"2023-01-04","v":0.49},{"d":"2023-01-15","v":0.52},{"d":"2023-01-24","v":0.44},{"d":"2023-02-07","v":0.49},{"d":"2023-02-23","v":0.5},{"d":"2023-03-04","v":0.42},{"d":"2023-03-12","v":0.27},{"d":"2023-03-25","v":0.36},{"d":"2023-04-13","v":0.41},{"d":"2023-04-28","v":0.37},{"d":"2023-05-15","v":0.4},{"d":"2023-06-01","v":0.37},{"d":"2023-06-18","v":0.36},{"d":"2023-07-04","v":0.4},{"d":"2023-07-21","v":0.44},{"d":"2023-08-01","v":0.6},{"d":"2023-08-18","v":0.65},{"d":"2023-09-04","v":0.66},{"d":"2023-09-20","v":0.72},{"d":"2023-10-07","v":0.77},{"d":"2023-10-23","v":0.88},{"d":"2023-11-01","v":0.94},{"d":"2023-11-15","v":0.84},{"d":"2023-12-01","v":0.8},{"d":"2023-12-18","v":0.66},{"d":"2024-01-04","v":0.58},{"d":"2024-01-15","v":0.62},{"d":"2024-02-01","v":0.675},{"d":"2024-02-17","v":0.7},{"d":"2024-03-04","v":0.745},{"d":"2024-03-20","v":0.76},{"d":"2024-04-06","v":0.81},{"d":"2024-04-23","v":0.88},{"d":"2024-05-04","v":0.91},{"d":"2024-05-15","v":0.93}
        ]}, "mark": {"type": "line", "strokeWidth": 1.3},
         "encoding": {"y": {"field": "v", "type": "quantitative", "scale": {"domain": [0, 1.2], "nice": false}, "axis": {"orient": "right", "title": "%", "titleAngle": 0, "titleAlign": "center", "titleBaseline": "middle", "titleX": -9, "titleY": -3, "titleFontSize": 10.5, "values": [0,0.2,0.4,0.6,0.8,1.0,1.2], "format": ".1f", "domain": false, "ticks": false, "labelPadding": 8, "labelFontSize": 10.5, "grid": false}},
           "stroke": {"datum": "10y JGB yield (RHS)", "type": "nominal", "scale": {"domain": ["10y JGB yield (RHS)", "OIS10y (RHS)"], "range": ["#a9a9b1", "#e8c04c"]}, "legend": {"orient": "none", "legendX": 4, "legendY": 8, "title": null, "symbolType": "stroke", "symbolSize": 729, "symbolStrokeWidth": 1.5, "labelFontSize": 9.5, "rowPadding": -9, "labelOffset": 3}}}},
        {"data": {"values": [
          {"d":"2022-01-04","v":0.065},{"d":"2022-01-10","v":0.12},{"d":"2022-01-20","v":0.13},{"d":"2022-02-07","v":0.16},{"d":"2022-02-23","v":0.19},{"d":"2022-03-04","v":0.175},{"d":"2022-03-15","v":0.23},{"d":"2022-03-28","v":0.36},{"d":"2022-04-01","v":0.33},{"d":"2022-04-12","v":0.37},{"d":"2022-04-22","v":0.4},{"d":"2022-05-04","v":0.36},{"d":"2022-05-20","v":0.34},{"d":"2022-06-01","v":0.41},{"d":"2022-06-14","v":0.59},{"d":"2022-06-20","v":0.47},{"d":"2022-06-30","v":0.36},{"d":"2022-07-09","v":0.3},{"d":"2022-07-26","v":0.27},{"d":"2022-08-07","v":0.29},{"d":"2022-08-23","v":0.37},{"d":"2022-09-09","v":0.44},{"d":"2022-09-20","v":0.49},{"d":"2022-10-05","v":0.59},{"d":"2022-10-18","v":0.54},{"d":"2022-10-28","v":0.6},{"d":"2022-11-10","v":0.52},{"d":"2022-11-20","v":0.55},{"d":"2022-12-01","v":0.58},{"d":"2022-12-12","v":0.59},{"d":"2022-12-20","v":0.62},{"d":"2022-12-27","v":0.8},{"d":"2023-01-06","v":0.88},{"d":"2023-01-15","v":0.97},{"d":"2023-01-20","v":0.84},{"d":"2023-02-01","v":0.83},{"d":"2023-02-12","v":0.8},{"d":"2023-02-23","v":0.81},{"d":"2023-03-08","v":0.8},{"d":"2023-03-12","v":0.58},{"d":"2023-03-22","v":0.63},{"d":"2023-04-08","v":0.59},{"d":"2023-04-25","v":0.58},{"d":"2023-05-12","v":0.59},{"d":"2023-05-30","v":0.56},{"d":"2023-06-15","v":0.58},{"d":"2023-06-28","v":0.51},{"d":"2023-07-08","v":0.55},{"d":"2023-07-18","v":0.66},{"d":"2023-08-01","v":0.74},{"d":"2023-08-18","v":0.79},{"d":"2023-09-04","v":0.83},{"d":"2023-09-20","v":0.88},{"d":"2023-10-07","v":0.94},{"d":"2023-10-23","v":1.04},{"d":"2023-11-01","v":1.12},{"d":"2023-11-15","v":1.02},{"d":"2023-12-01","v":0.94},{"d":"2023-12-18","v":0.83},{"d":"2024-01-04","v":0.8},{"d":"2024-01-20","v":0.87},{"d":"2024-02-05","v":0.91},{"d":"2024-02-27","v":0.84},{"d":"2024-03-12","v":0.83},{"d":"2024-03-22","v":0.81},{"d":"2024-04-06","v":0.86},{"d":"2024-04-23","v":0.94},{"d":"2024-05-04","v":0.97},{"d":"2024-05-15","v":0.96}
        ]}, "mark": {"type": "line", "strokeWidth": 1.3},
         "encoding": {"y": {"field": "v", "type": "quantitative"}, "stroke": {"datum": "OIS10y (RHS)", "type": "nominal"}}},
        {"data": {"values": [
          {"d": "2022-01-01", "d2": "2022-12-20", "v": 0.25},
          {"d": "2022-12-20", "d2": "2023-07-28", "v": 0.5},
          {"d": "2023-07-28", "d2": "2024-03-19", "v": 1.0}
        ]}, "mark": {"type": "rule", "color": "#e8202a", "strokeWidth": 1.5, "strokeDash": [4, 2.5]},
         "encoding": {"x2": {"field": "d2"}, "y": {"field": "v", "type": "quantitative"}}},
        {"data": {"values": [{"d": "2023-07-10", "v": 0.925, "t": "YCC cap"}]},
         "mark": {"type": "text", "color": "#e8202a", "fontSize": 12, "baseline": "middle"},
         "encoding": {"y": {"field": "v", "type": "quantitative"}, "text": {"field": "t"}}}
      ]}
    ],
    "resolve": {"scale": {"y": "independent"}}
  }]
},
{
  "title": {"text": ["Figure 16: Change in long-term government bonds held by", "BoJ"], "lineHeight": 18, "anchor": "start", "frame": "group", "dx": -37, "offset": 14, "fontSize": 12, "fontWeight": "bold"},
  "vconcat": [{
    "width": 278, "height": 153,
    "title": {"text": "Source: BoJ, as of Mar. *Monthly basis", "orient": "bottom", "anchor": "start", "frame": "group", "dx": -37, "offset": 27, "fontSize": 8, "fontWeight": "normal", "font": "Open Sans", "color": "#333"},
    "encoding": {
      "x": {"field": "t", "type": "quantitative", "scale": {"domain": [10.985, 24.45], "nice": false, "zero": false}, "axis": {"title": null, "values": [11,12,13,14,15,16,17,18,19,20,21,22,23,24], "format": "d", "grid": false, "domain": false, "ticks": false, "labelPadding": 7, "labelFontSize": 13.5}},
      "y": {"field": "v", "type": "quantitative", "scale": {"domain": [0, 93.7], "nice": false, "zero": false}, "axis": {"title": "JPY trillion, change from last year", "titleAngle": 0, "titleAlign": "left", "titleBaseline": "middle", "titleX": -9, "titleY": 0, "titleFontSize": 13, "values": [0,10,20,30,40,50,60,70,80,90], "domain": false, "ticks": false, "labelPadding": 12, "labelFontSize": 13.5, "grid": true}}
    },
    "layer": [
      {"data": {"values": [
        {"t":11.0,"v":8.2},{"t":11.21,"v":8.4},{"t":11.37,"v":8.8},{"t":11.5,"v":7.4},{"t":11.69,"v":6.7},{"t":11.94,"v":6.7},{"t":12.1,"v":8.2},{"t":12.26,"v":9.4},{"t":12.42,"v":10.8},{"t":12.58,"v":13.3},{"t":12.7,"v":15.5},{"t":12.83,"v":18},{"t":12.99,"v":22},{"t":13.12,"v":23},{"t":13.18,"v":21},{"t":13.28,"v":26},{"t":13.39,"v":32},{"t":13.55,"v":40.5},{"t":13.71,"v":47.6},{"t":13.88,"v":53.8},{"t":14.04,"v":60},{"t":14.15,"v":63},{"t":14.28,"v":59},{"t":14.44,"v":55.8},{"t":14.68,"v":54.4},{"t":14.84,"v":57.9},{"t":15.01,"v":65},{"t":15.17,"v":67},{"t":15.33,"v":72},{"t":15.49,"v":76.3},{"t":15.65,"v":83.4},{"t":15.81,"v":82.4},{"t":15.98,"v":81},{"t":16.14,"v":82.4},{"t":16.3,"v":83},{"t":16.46,"v":83},{"t":16.62,"v":79.3},{"t":16.78,"v":78.3},{"t":16.95,"v":77.3},{"t":17.11,"v":72.2},{"t":17.27,"v":68.1},{"t":17.43,"v":65},{"t":17.59,"v":62},{"t":17.75,"v":57.9},{"t":17.91,"v":53.8},{"t":18.07,"v":49.7},{"t":18.19,"v":43.6},{"t":18.29,"v":46.6},{"t":18.48,"v":44.6},{"t":18.64,"v":40.5},{"t":18.88,"v":36.4},{"t":19.13,"v":31.3},{"t":19.37,"v":26.2},{"t":19.61,"v":20},{"t":19.77,"v":16},{"t":19.93,"v":14.9},{"t":20.18,"v":13.9},{"t":20.39,"v":12.9},{"t":20.55,"v":16},{"t":20.74,"v":16.4},{"t":20.9,"v":22},{"t":21.03,"v":25.2},{"t":21.19,"v":22},{"t":21.39,"v":21.7},{"t":21.63,"v":19},{"t":21.79,"v":17},{"t":22.0,"v":12.9},{"t":22.11,"v":16},{"t":22.28,"v":20},{"t":22.39,"v":29.2},{"t":22.52,"v":28.2},{"t":22.65,"v":33.3},{"t":22.76,"v":40.5},{"t":22.87,"v":45.6},{"t":22.94,"v":55.8},{"t":23.04,"v":66},{"t":23.16,"v":65},{"t":23.28,"v":64},{"t":23.37,"v":52.8},{"t":23.49,"v":56.9},{"t":23.58,"v":51.7},{"t":23.68,"v":45.6},{"t":23.78,"v":44.6},{"t":23.84,"v":30.3},{"t":23.94,"v":16},{"t":24.07,"v":11.9},{"t":24.2,"v":8.2},{"t":24.3,"v":1.6}
      ]}, "mark": {"type": "line", "strokeWidth": 2.2, "color": "#3b2a20"}},
      {"data": {"values": [
        {"t": 12.58, "v": 35.6, "t2": 13.18, "v2": 25.8},
        {"t": 16.30, "v": 46.6, "t2": 16.54, "v2": 78.5},
        {"t": 22.52, "v": 83.4, "t2": 22.84, "v2": 83.0},
        {"t": 22.84, "v": 83.0, "t2": 23.16, "v2": 67.1}
      ]}, "mark": {"type": "rule", "color": "#888", "strokeWidth": 0.9},
       "encoding": {"x2": {"field": "t2"}, "y2": {"field": "v2"}}},
      {"data": {"values": [
        {"t": 12.18, "v": 47.9, "label": "Introduction\nof QQE\n(Mar 2013)"},
        {"t": 16.30, "v": 36.4, "label": "Introduction\nof YCC\n(Sep 2016)"},
        {"t": 20.98, "v": 82.2, "label": "Ueda's term\nof office"}
      ]}, "mark": {"type": "text", "fontSize": 10.5, "lineBreak": "\n", "lineHeight": 11, "color": "#333", "baseline": "middle"},
       "encoding": {"text": {"field": "label"}}}
    ]
  }]
}
]
},
{
  "width": 656, "height": 20,
  "encoding": {
    "x": {"field": "pos", "type": "quantitative", "scale": {"domain": [0.04925, 1], "nice": false, "zero": false}, "axis": null},
    "y": {"field": "y", "type": "quantitative", "scale": {"domain": [0, 1], "nice": false, "zero": false}, "axis": null}
  },
  "layer": [
    {"data": {"values": [{"pos": 0, "pos2": 1, "y": 1}]}, "mark": {"type": "rule", "color": "#444", "strokeWidth": 1}, "encoding": {"x2": {"field": "pos2"}}},
    {"data": {"values": [{"pos": 0, "y": 0.45, "label": "Japan Macro Watch"}]}, "mark": {"type": "text", "align": "left", "baseline": "middle", "font": "Roboto", "fontWeight": "bold", "fontSize": 12, "color": "#000"}, "encoding": {"text": {"field": "label"}}},
    {"data": {"values": [{"pos": 0.1637, "y": 0.45, "label": "17 May 2024"}]}, "mark": {"type": "text", "align": "left", "baseline": "middle", "font": "Roboto", "fontSize": 11.5, "color": "#222"}, "encoding": {"text": {"field": "label"}}},
    {"data": {"values": [{"pos": 0.981, "y": 0.45, "label": "UBS"}]}, "mark": {"type": "text", "align": "right", "baseline": "middle", "font": "Liberation Serif", "fontWeight": "bold", "fontSize": 13, "color": "#000"}, "encoding": {"text": {"field": "label"}}},
    {"data": {"values": [{"pos": 1, "y": 0.45, "label": "5"}]}, "mark": {"type": "text", "align": "right", "baseline": "middle", "font": "Roboto", "fontSize": 12, "color": "#222"}, "encoding": {"text": {"field": "label"}}}
  ]
}
]
}
